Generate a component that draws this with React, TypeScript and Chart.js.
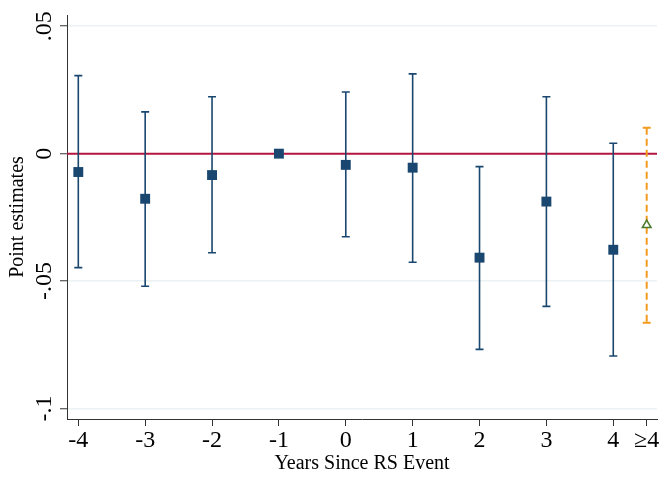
import React, { useEffect, useRef } from "react";
import { Chart, registerables } from "chart.js";

Chart.register(...registerables);

// ---- data ----
const years = [-4, -3, -2, -1, 0, 1, 2, 3, 4];
const estimates = [-0.0072, -0.0177, -0.0084, 0, -0.0044, -0.0055, -0.0408, -0.0188, -0.0377];
const upperCI = [0.0306, 0.0164, 0.0223, 0, 0.0242, 0.0313, -0.0051, 0.0223, 0.0041];
const lowerCI = [-0.0447, -0.052, -0.0389, 0, -0.0326, -0.0426, -0.0768, -0.0599, -0.0794];

const longRunX = [4.5];
const longRunEstimate = [-0.028];
const longRunUpper = [0.0102];
const longRunLower = [-0.0663];

const xTickValues = [-4, -3, -2, -1, 0, 1, 2, 3, 4, 4.5];
const xTickLabels = ["-4", "-3", "-2", "-1", "0", "1", "2", "3", "4", "≥4"];
const yTickValues = [-0.1, -0.05, 0, 0.05];
const yTickLabels = ["-.1", "-.05", "0", ".05"];

const NAVY = "#1a476f";
const RED = "#b5163f";
const ORANGE = "#f39b1f";
const GREEN = "#4a7a26";
const AXIS = "#333333";
const GRID = "#eaf2f3";
const FONT = "'Liberation Serif', 'Times New Roman', serif";

const overlayPlugin = {
  id: "overlay",
  beforeDatasetsDraw(chart: any) {
    const { ctx, chartArea, scales } = chart;
    const xs = scales.x;
    const ys = scales.y;
    ctx.save();
    // zero reference line
    const y0 = ys.getPixelForValue(0);
    ctx.strokeStyle = RED;
    ctx.lineWidth = 2;
    ctx.beginPath();
    ctx.moveTo(chartArea.left, y0);
    ctx.lineTo(chartArea.right, y0);
    ctx.stroke();

    // error bars
    const cap = 4;
    ctx.strokeStyle = NAVY;
    ctx.lineWidth = 1.6;
    years.forEach((yr, i) => {
      if (upperCI[i] === lowerCI[i]) return;
      const px = xs.getPixelForValue(yr);
      const pu = ys.getPixelForValue(upperCI[i]);
      const pl = ys.getPixelForValue(lowerCI[i]);
      ctx.beginPath();
      ctx.moveTo(px, pu);
      ctx.lineTo(px, pl);
      ctx.moveTo(px - cap, pu);
      ctx.lineTo(px + cap, pu);
      ctx.moveTo(px - cap, pl);
      ctx.lineTo(px + cap, pl);
      ctx.stroke();
    });

    // long-run dashed bar
    ctx.strokeStyle = ORANGE;
    ctx.lineWidth = 2;
    longRunX.forEach((xv, i) => {
      const px = xs.getPixelForValue(xv);
      const pu = ys.getPixelForValue(longRunUpper[i]);
      const pl = ys.getPixelForValue(longRunLower[i]);
      ctx.setLineDash([7, 4]);
      ctx.beginPath();
      ctx.moveTo(px, pu);
      ctx.lineTo(px, pl);
      ctx.stroke();
      ctx.setLineDash([]);
      ctx.beginPath();
      ctx.moveTo(px - cap, pu);
      ctx.lineTo(px + cap, pu);
      ctx.moveTo(px - cap, pl);
      ctx.lineTo(px + cap, pl);
      ctx.stroke();
    });
    ctx.restore();
  },
  afterDraw(chart: any) {
    const { ctx, scales } = chart;
    const ys = scales.y;
    ctx.save();
    ctx.fillStyle = "#000";
    ctx.font = `24px ${FONT}`;
    ctx.textAlign = "center";
    ctx.textBaseline = "alphabetic";
    yTickValues.forEach((v, i) => {
      const py = ys.getPixelForValue(v);
      ctx.save();
      ctx.translate(50.7, py);
      ctx.rotate(-Math.PI / 2);
      ctx.fillText(yTickLabels[i], 0, 0);
      ctx.restore();
    });
    ctx.restore();
  },
};

export default function App() {
  const ref = useRef<HTMLCanvasElement | null>(null);

  useEffect(() => {
    if (!ref.current) return;
    const chart = new Chart(ref.current, {
      type: "scatter",
      data: {
        datasets: [
          {
            label: "Point estimates",
            data: years.map((x, i) => ({ x, y: estimates[i] })),
            pointStyle: "rect",
            pointRadius: 7,
            pointBackgroundColor: NAVY,
            pointBorderColor: NAVY,
            pointBorderWidth: 0,
          },
          {
            label: "Long run",
            data: longRunX.map((x, i) => ({ x, y: longRunEstimate[i] })),
            pointStyle: "triangle",
            pointRadius: 5,
            pointBackgroundColor: "#ffffff",
            pointBorderColor: GREEN,
            pointBorderWidth: 1.5,
          },
        ],
      },
      options: {
        animation: false,
        responsive: false,
        maintainAspectRatio: false,
        layout: { autoPadding: false, padding: { top: 15, right: 3, left: 0, bottom: 0 } },
        plugins: {
          legend: { display: false },
          tooltip: { enabled: false },
        },
        scales: {
          x: {
            type: "linear",
            min: -4.169,
            max: 4.654,
            afterBuildTicks: (s: any) => {
              s.ticks = xTickValues.map((v) => ({ value: v }));
            },
            afterFit: (s: any) => {
              s.height = 58;
              s.paddingLeft = 0;
              s.paddingRight = 0;
            },
            ticks: {
              autoSkip: false,
              maxRotation: 0,
              minRotation: 0,
              padding: 0,
              color: "#000",
              font: { family: FONT, size: 24 },
              callback: (v: any) => {
                const idx = xTickValues.indexOf(Number(v));
                return idx >= 0 ? xTickLabels[idx] : "";
              },
            },
            grid: {
              drawOnChartArea: false,
              drawTicks: true,
              tickLength: 7,
              tickColor: AXIS,
              tickWidth: 1,
            },
            border: { display: true, color: AXIS, width: 1 },
            title: {
              display: true,
              text: "Years Since RS Event",
              color: "#000",
              font: { family: FONT, size: 20 },
              padding: { top: 0, bottom: 1 },
            },
          },
          y: {
            type: "linear",
            min: -0.1041,
            max: 0.0544,
            afterBuildTicks: (s: any) => {
              s.ticks = yTickValues.map((v) => ({ value: v }));
            },
            afterFit: (s: any) => {
              s.width = 67;
              s.paddingTop = 0;
              s.paddingBottom = 0;
            },
            ticks: { display: false },
            grid: {
              color: GRID,
              lineWidth: 1.5,
              drawTicks: true,
              tickLength: 7,
              tickColor: AXIS,
              tickWidth: 1,
            },
            border: { display: true, color: AXIS, width: 1 },
            title: {
              display: true,
              text: "Point estimates",
              color: "#000",
              font: { family: FONT, size: 20 },
              padding: { top: 5.5, bottom: 0 },
            },
          },
        },
      },
      plugins: [overlayPlugin],
    });
    return () => chart.destroy();
  }, []);

  return (
    <div style={{ position: "fixed", left: 0, top: 0, width: 660, height: 477, background: "#fff" }}>
      <canvas ref={ref} width={660} height={477} style={{ display: "block" }} />
    </div>
  );
}
